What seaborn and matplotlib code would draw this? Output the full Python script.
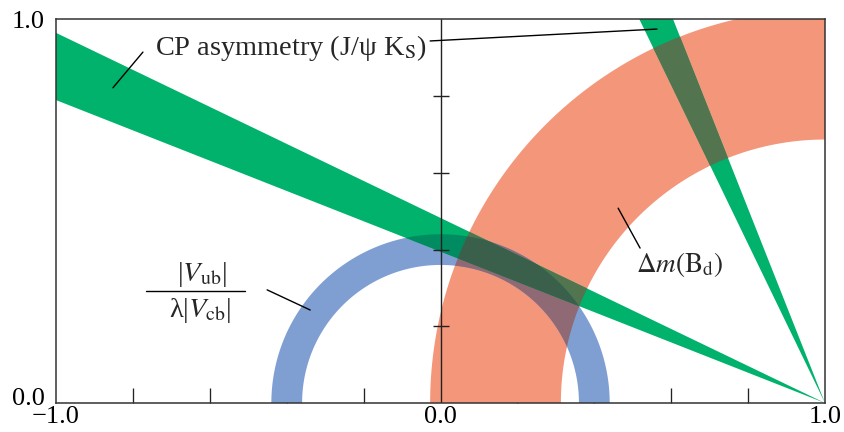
import numpy as np
import matplotlib
matplotlib.use('Agg')
import matplotlib.pyplot as plt
from matplotlib.patches import Polygon
from matplotlib.transforms import ScaledTranslation
import seaborn as sns

# axis labels and tick marks
rho_labels = [-1.0, 0.0, 1.0]
eta_labels = [0.0, 1.0]
rho_minor = [-0.8, -0.6, -0.4, -0.2, 0.2, 0.4, 0.6, 0.8]
eta_marks = [0.2, 0.4, 0.6, 0.8]

# |Vub| / lambda|Vcb| ring around (0, 0)
vub_center = (0.0, 0.0)
vub_radii = [0.36, 0.44]
# delta m(Bd) ring around (1, 0)
dmd_center = (1.0, 0.0)
dmd_radii = [0.687, 1.027]
# CP asymmetry band: beta range in degrees, both solutions come from (1, 0)
beta_apex = (1.0, 0.0)
beta_deg = [21.55, 25.76]
beta_deg_alt = [90.0 - beta_deg[1], 90.0 - beta_deg[0]]

c_green = '#00b26b'
c_red = '#f4967a'
c_blue = '#7f9fd3'
c_green_blue = '#008c60'
c_green_red = '#52744e'
c_red_blue = '#8f6a75'
c_all = '#3a604c'
c_ink = '#222222'


def ring(center, radii, n=500):
    t = np.linspace(0, np.pi, n)
    cx, cy = center
    r0, r1 = radii
    outer = np.column_stack([cx + r1 * np.cos(t), cy + r1 * np.sin(t)])
    inner = np.column_stack([cx + r0 * np.cos(t[::-1]), cy + r0 * np.sin(t[::-1])])
    return np.vstack([outer, inner])


def wedge(apex, angles, length=4.0):
    x0, y0 = apex
    a0, a1 = np.radians(angles)
    return np.array([[x0, y0],
                     [x0 - length * np.cos(a0), y0 + length * np.sin(a0)],
                     [x0 - length * np.cos(a1), y0 + length * np.sin(a1)]])


def clip_convex(subject, clip):
    """Sutherland-Hodgman clip of a polygon by a convex polygon"""
    area = 0.5 * np.sum(clip[:, 0] * np.roll(clip[:, 1], -1) - np.roll(clip[:, 0], -1) * clip[:, 1])
    if area < 0:
        clip = clip[::-1]
    out = [np.asarray(p) for p in subject]
    for i in range(len(clip)):
        a, b = clip[i], clip[(i + 1) % len(clip)]

        def side(p):
            return (b[0] - a[0]) * (p[1] - a[1]) - (b[1] - a[1]) * (p[0] - a[0])

        inp, out = out, []
        for j in range(len(inp)):
            p, q = inp[j - 1], inp[j]
            sp, sq = side(p), side(q)
            if sq >= 0:
                if sp < 0:
                    out.append(p + (q - p) * sp / (sp - sq))
                out.append(q)
            elif sp >= 0:
                out.append(p + (q - p) * sp / (sp - sq))
        if not out:
            break
    return np.array(out)


sns.set_style('white')
plt.rcParams['font.family'] = ['Liberation Serif', 'DejaVu Serif']
plt.rcParams['mathtext.fontset'] = 'stix'

fig = plt.figure(figsize=(8.44, 4.32), dpi=100)
ax = fig.add_axes([0.0664, 0.0671, 0.9111, 0.8878])

red = ring(dmd_center, dmd_radii)
blue = ring(vub_center, vub_radii)
wedges = [wedge(beta_apex, beta_deg), wedge(beta_apex, beta_deg_alt)]

red_patch = ax.add_patch(Polygon(red, closed=True, fc=c_red, ec='none', zorder=1))
blue_patch = ax.add_patch(Polygon(blue, closed=True, fc=c_blue, ec='none', zorder=1))
for w in wedges:
    ax.add_patch(Polygon(w, closed=True, fc=c_green, ec='none', zorder=1))

# overlaps
p = ax.add_patch(Polygon(blue, closed=True, fc=c_red_blue, ec='none', zorder=1.2))
p.set_clip_path(red_patch)
for w in wedges:
    p = ax.add_patch(Polygon(w, closed=True, fc=c_green_red, ec='none', zorder=1.3))
    p.set_clip_path(red_patch)
    p = ax.add_patch(Polygon(w, closed=True, fc=c_green_blue, ec='none', zorder=1.3))
    p.set_clip_path(blue_patch)
    gb = clip_convex(blue, w)
    if len(gb) > 2:
        p = ax.add_patch(Polygon(gb, closed=True, fc=c_all, ec='none', zorder=1.4))
        p.set_clip_path(red_patch)

# vertical axis at rho = 0 with crossing marks
ax.axvline(0, color=c_ink, lw=1.0, zorder=3)
ax.plot([0] * len(eta_marks), eta_marks, ls='none', marker='_', ms=11.5, mew=1.0,
        color=c_ink, zorder=3)

ax.set_xlim(-1, 1)
ax.set_ylim(0, 1)
ax.set_xticks(rho_labels)
ax.set_xticklabels([f'{v:.1f}'.replace('-', '\u2212') for v in rho_labels])
ax.set_xticks(rho_minor, minor=True)
ax.set_yticks(eta_labels)
ax.set_yticklabels([f'{v:.1f}' for v in eta_labels])
ax.tick_params(axis='both', which='major', length=0, labelsize=19, colors='black')
ax.tick_params(axis='x', which='major', pad=2.5)
ax.tick_params(axis='y', which='major', pad=8)
ax.tick_params(axis='x', which='minor', direction='in', length=10.8, width=0.95,
               color=c_ink, bottom=True)
# lift the bottom y label a little, as in the original
lab0 = ax.get_yticklabels()[0]
lab0.set_transform(lab0.get_transform() + ScaledTranslation(0, 5 / 72, fig.dpi_scale_trans))
for s in ax.spines.values():
    s.set_color('#333333')
    s.set_linewidth(1.1)
    s.set_zorder(4)

# labels and leader lines
ax.text(-0.742, 0.925, r'CP asymmetry (J/ψ K$_\mathrm{S}$)', fontsize=20.4,
        ha='left', va='center', zorder=5)
ax.plot([-0.774, -0.852], [0.915, 0.822], color='black', lw=1.0, zorder=5)
ax.plot([-0.027, 0.563], [0.944, 0.975], color='black', lw=1.0, zorder=5)

ax.text(-0.62, 0.334, r'|$V_\mathrm{ub}$|', fontsize=20.5, ha='center', va='center', zorder=5)
ax.text(-0.625, 0.2425, r'λ|$V_\mathrm{cb}$|', fontsize=20.5, ha='center', va='center', zorder=5)
ax.plot([-0.766, -0.508], [0.292, 0.292], color='black', lw=1.0, zorder=5)
ax.plot([-0.451, -0.339], [0.295, 0.2425], color='black', lw=1.0, zorder=5)

ax.text(0.623, 0.36, r'$\Delta m(\mathrm{B}_\mathrm{d})$', fontsize=19.5,
        ha='center', va='center', zorder=5)
ax.plot([0.462, 0.519], [0.508, 0.404], color='black', lw=1.0, zorder=5)

fig.savefig('out.png', dpi=100)
plt.close(fig)
